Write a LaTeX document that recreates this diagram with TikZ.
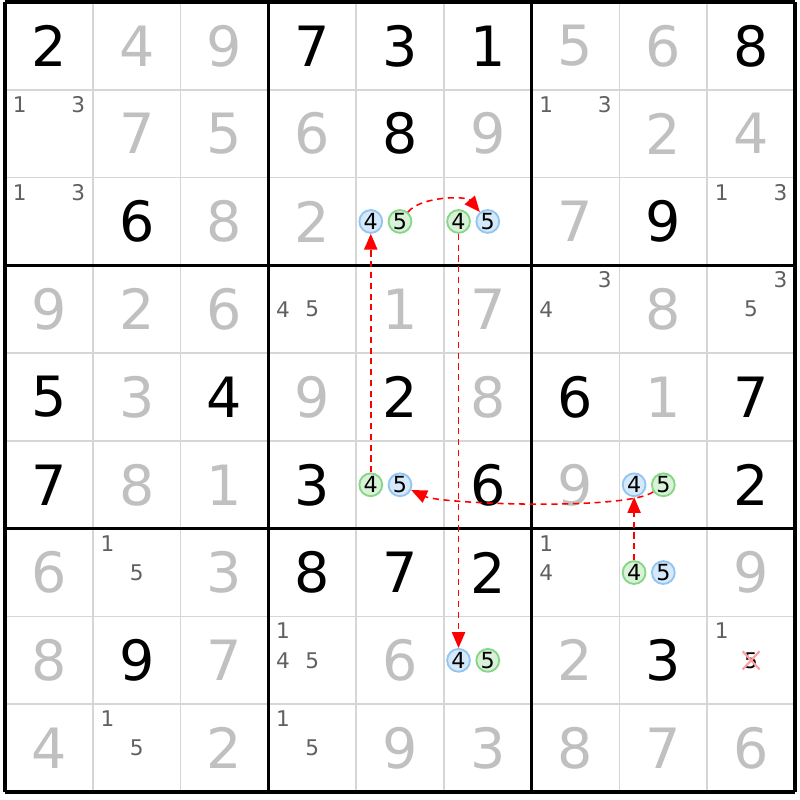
\documentclass[tikz,border=0pt]{standalone}
\usepackage{fontspec}
\setmainfont{DejaVu Sans}
\usetikzlibrary{arrows.meta,shapes.misc}
\definecolor{solvedgrey}{HTML}{C0C0C0}
\definecolor{candgrey}{HTML}{606060}
\definecolor{thingrey}{HTML}{D6D6D6}
\definecolor{bluefill}{HTML}{D5E9FB}
\definecolor{blueline}{HTML}{92C5F2}
\definecolor{greenfill}{HTML}{D7F2D7}
\definecolor{greenline}{HTML}{86D686}
\definecolor{crosspink}{HTML}{FFA0A0}
\tikzset{
  given/.style={font=\fontsize{18}{18}\selectfont, text=black, inner sep=0pt},
  solved/.style={given, text=solvedgrey},
  cand/.style={font=\fontsize{7}{7}\selectfont, text=candgrey, inner sep=0pt},
  bluecand/.style={circle, draw=blueline, fill=bluefill, line width=0.6pt, minimum size=0.26cm, inner sep=0pt, font=\fontsize{7.2}{7}\selectfont},
  greencand/.style={bluecand, draw=greenline, fill=greenfill},
  linkarrow/.style={draw=red, line width=0.5pt, dash pattern=on 2pt off 1.5pt, -{Triangle[length=1.8mm,width=1.5mm]}}
}
\begin{document}
\begin{tikzpicture}
                \path[fill=white, use as bounding box] (-0.057,-0.091) rectangle (9.057,9.023);
                \draw[thingrey, line width=0.6pt] (0,0) grid (9,9);
                \draw[line width=1.1pt] (0,0) grid[step=3] (9,9);

                \foreach \r/\c/\d in {1/1/2, 1/4/7, 1/5/3, 1/6/1, 1/9/8, 2/5/8, 3/2/6, 3/8/9, 5/1/5, 5/3/4, 5/5/2, 5/7/6, 5/9/7, 6/1/7, 6/4/3, 6/6/6, 6/9/2, 7/4/8, 7/5/7, 7/6/2, 8/2/9, 8/8/3}
                    \node[given] (g-\r-\c) at (\c-0.5, 9.5-\r) {\d};

                \foreach \r/\c/\d in {1/2/4, 1/3/9, 1/7/5, 1/8/6, 2/2/7, 2/3/5, 2/4/6, 2/6/9, 2/8/2, 2/9/4, 3/3/8, 3/4/2, 3/7/7, 4/1/9, 4/2/2, 4/3/6, 4/5/1, 4/6/7, 4/8/8, 5/2/3, 5/4/9, 5/6/8, 5/8/1, 6/2/8, 6/3/1, 6/7/9, 7/1/6, 7/3/3, 7/9/9, 8/1/8, 8/3/7, 8/5/6, 8/7/2, 9/1/4, 9/3/2, 9/5/9, 9/6/3, 9/7/8, 9/8/7, 9/9/6}
                    \node[solved] (s-\r-\c) at (\c-0.5, 9.5-\r) {\d};

                \foreach \r/\c/\d in {2/1/1, 2/1/3, 2/7/1, 2/7/3, 3/1/1, 3/1/3, 3/9/1, 3/9/3, 4/4/4, 4/4/5, 4/7/3, 4/7/4, 4/9/3, 4/9/5, 7/2/1, 7/2/5, 7/7/1, 7/7/4, 8/4/1, 8/4/4, 8/4/5, 8/9/1, 9/2/1, 9/2/5, 9/4/1, 9/4/5} {
                    \pgfmathsetmacro\dx{(mod(\d-1,3)-1)/3}
                    \pgfmathsetmacro\dy{(1-int((\d-1)/3))/3}
                    \node[cand] (k-\r-\c-\d) at (\c-0.5+\dx, 9.5-\r+\dy) {\d};
                }

                \node[bluecand] (n-3-5-4) at (4.167,6.5) {4};
                \node[greencand] (n-3-5-5) at (4.5,6.5) {5};
                \node[greencand] (n-3-6-4) at (5.167,6.5) {4};
                \node[bluecand] (n-3-6-5) at (5.5,6.5) {5};
                \node[greencand] (n-6-5-4) at (4.167,3.5) {4};
                \node[bluecand] (n-6-5-5) at (4.5,3.5) {5};
                \node[bluecand] (n-6-8-4) at (7.167,3.5) {4};
                \node[greencand] (n-6-8-5) at (7.5,3.5) {5};
                \node[greencand] (n-7-8-4) at (7.167,2.5) {4};
                \node[bluecand] (n-7-8-5) at (7.5,2.5) {5};
                \node[bluecand] (n-8-6-4) at (5.167,1.5) {4};
                \node[greencand] (n-8-6-5) at (5.5,1.5) {5};

                \node[cand, text=black, cross out, draw=crosspink, line width=0.7pt, minimum size=0.17cm] (x-8-9-5) at (8.5,1.5) {5};

                \draw[linkarrow] (n-6-5-4) -- (n-3-5-4);
                \draw[linkarrow] (n-3-5-5) to[out=50, in=130, looseness=0.75] (n-3-6-5);
                \draw[linkarrow] (n-3-6-4) -- (n-8-6-4);
                \draw[linkarrow] (n-7-8-4) -- (n-6-8-4);
                \draw[linkarrow] (n-6-8-5) to[out=215, in=-25, looseness=0.35] (n-6-5-5);
            \end{tikzpicture}
\end{document}
